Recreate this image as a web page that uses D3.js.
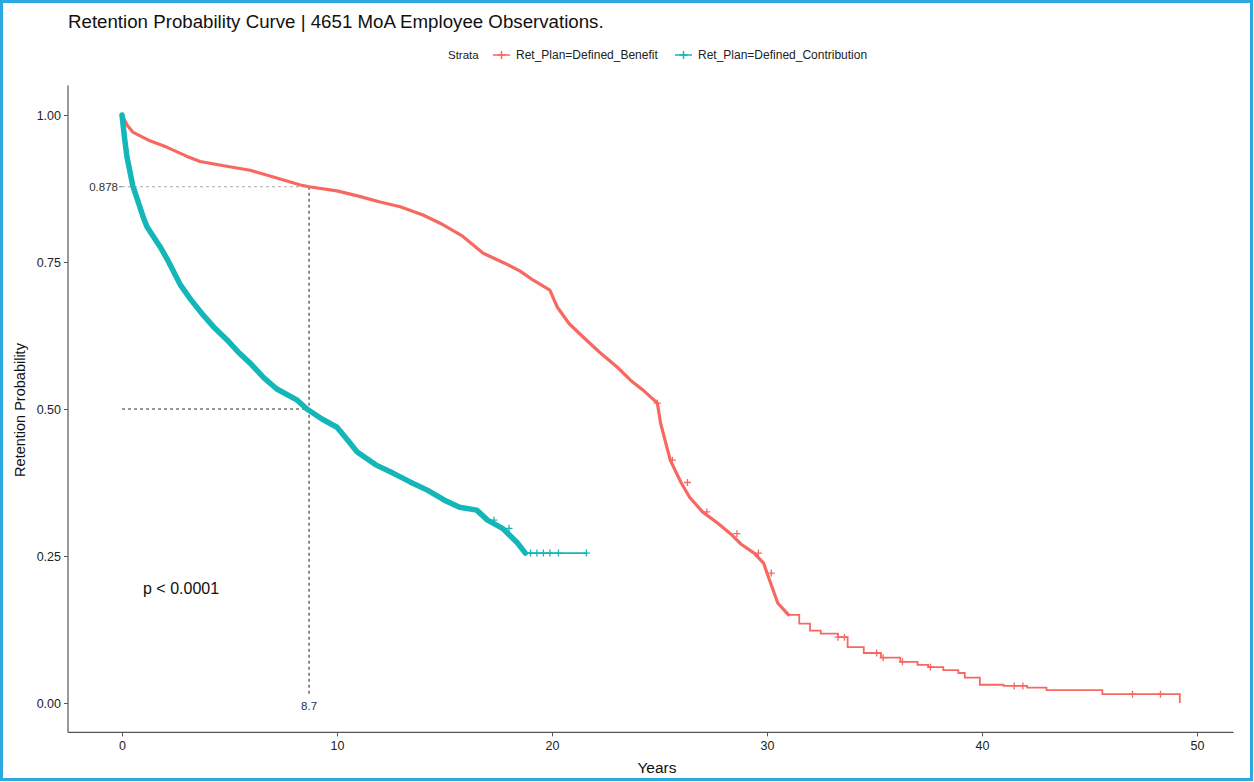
<!DOCTYPE html>
<html>
<head>
<meta charset="utf-8">
<script src="https://cdn.jsdelivr.net/npm/d3@7"></script>
<style>
  body { margin: 0; background: #fff; }
  svg { font-family: "Liberation Sans", Arial, sans-serif; }
</style>
</head>
<body>
<svg id="km" width="1254" height="782"></svg>
<script>
// survival estimates (years, probability)
var dbTimes = [0, 0.25, 0.5, 1.3, 2.1, 3.0, 3.63, 5.0, 5.96, 7.0, 8.3, 8.7, 10.0, 11.0, 12.0, 12.94, 14.0, 14.8,
  15.8, 16.8, 17.8, 18.5, 19.13, 19.9, 20.25, 20.8, 21.46, 22.2, 23.04, 23.65, 24.3, 24.9, 25.05, 25.5,
  26.0, 26.4, 27.0, 27.7, 28.3, 28.8, 29.4, 29.84, 30.0, 30.5, 31.0, 31.5, 32.0, 32.5, 33.3, 33.75,
  34.5, 35.3, 36.2, 37.0, 37.5, 38.2, 38.9, 39.2, 39.9, 41.0, 42.1, 43.0, 45.6, 49.2];
var dbSurv = [1.00, 0.982, 0.971, 0.956, 0.945, 0.930, 0.921, 0.912, 0.906, 0.895, 0.881, 0.878, 0.871, 0.862, 0.852, 0.844, 0.830, 0.816,
  0.795, 0.765, 0.748, 0.735, 0.719, 0.702, 0.673, 0.645, 0.622, 0.597, 0.571, 0.549, 0.530, 0.510, 0.476, 0.413,
  0.375, 0.350, 0.325, 0.306, 0.288, 0.270, 0.255, 0.238, 0.221, 0.170, 0.150, 0.135, 0.123, 0.118, 0.112, 0.095,
  0.085, 0.077, 0.070, 0.065, 0.061, 0.056, 0.051, 0.043, 0.031, 0.029, 0.026, 0.022, 0.015, 0.0];

var dcTimes = [0, 0.12, 0.23, 0.5, 0.98, 1.16, 1.77, 2.1, 2.7, 3.2, 3.77, 4.3, 4.9, 5.4, 5.96, 6.6, 7.2,
  8.15, 8.6, 9.3, 10.0, 10.5, 10.94, 11.8, 12.6, 13.4, 14.2, 15.0, 15.7, 16.5, 17.0, 17.7, 18.4, 18.76, 21.6];
var dcSurv = [1.00, 0.96, 0.929, 0.880, 0.827, 0.810, 0.776, 0.755, 0.712, 0.686, 0.660, 0.638, 0.617, 0.597, 0.578, 0.553, 0.534,
  0.515, 0.500, 0.483, 0.469, 0.447, 0.427, 0.405, 0.391, 0.376, 0.362, 0.345, 0.333, 0.328, 0.311, 0.297, 0.272, 0.255, 0.255];

// censored observations that stand out as single "+" marks
var dbCensor = [24.9, 25.6, 26.3, 27.2, 28.6, 29.6, 30.2, 33.3, 33.6, 35.1, 35.4, 36.3, 37.6, 41.5, 41.9, 47.0, 48.3];
var dcCensor = [17.3, 18.0, 19.0, 19.3, 19.6, 19.9, 20.3, 21.6];

var strata = ["Ret_Plan=Defined_Benefit", "Ret_Plan=Defined_Contribution"];
var colors = ["#f76860", "#14b6b8"];
var xTicks = [0, 10, 20, 30, 40, 50];
var yTicks = [0, 0.25, 0.5, 0.75, 1];
var medianTime = 8.7;
var dbAtMedian = 0.878;

(function () {
  var svg = d3.select('#km');

  var x = d3.scaleLinear().domain([0, 50]).range([122, 1197]);
  var y = d3.scaleLinear().domain([0, 1]).range([703, 115]);

  // outer frame
  svg.append('rect')
    .attr('x', 1.5).attr('y', 1.5).attr('width', 1250).attr('height', 778)
    .attr('fill', 'none').attr('stroke', '#2aa8e2').attr('stroke-width', 3);

  svg.append('text')
    .attr('x', 68).attr('y', 28)
    .style('font-size', '18.7px').style('fill', '#111')
    .text('Retention Probability Curve | 4651 MoA Employee Observations.');

  // legend
  var lg = svg.append('g').attr('transform', 'translate(0,55)');
  lg.append('text').attr('x', 448).attr('y', 4).style('font-size', '11.5px').style('fill', '#222').text('Strata');
  var keyX = [493, 675];
  strata.forEach(function (s, i) {
    var g = lg.append('g').attr('transform', 'translate(' + keyX[i] + ',0)');
    g.append('line').attr('x1', 0).attr('x2', 17).attr('y1', 0).attr('y2', 0)
      .attr('stroke', colors[i]).attr('stroke-width', 1.5);
    g.append('path').attr('d', 'M4.5,0H12.5M8.5,-4V4').attr('stroke', colors[i]).attr('stroke-width', 1.5);
    g.append('text').attr('x', 23).attr('y', 4).style('font-size', '12px').style('fill', '#222').text(s);
  });

  // axes
  var axisCol = '#555';
  svg.append('line').attr('x1', 68).attr('x2', x(51.7)).attr('y1', y(-0.05)).attr('y2', y(-0.05))
    .attr('stroke', axisCol).attr('stroke-width', 1.2);
  svg.append('line').attr('x1', 68).attr('x2', 68).attr('y1', y(-0.05)).attr('y2', y(1.05))
    .attr('stroke', axisCol).attr('stroke-width', 1.2);

  var xa = svg.append('g').attr('transform', 'translate(0,' + y(-0.05) + ')')
    .call(d3.axisBottom(x).tickValues(xTicks).tickSize(4).tickPadding(5));
  var ya = svg.append('g').attr('transform', 'translate(68,0)')
    .call(d3.axisLeft(y).tickValues(yTicks).tickSize(4).tickPadding(3).tickFormat(d3.format('.2f')));
  [xa, ya].forEach(function (a) {
    a.select('.domain').remove();
    a.selectAll('.tick line').attr('stroke', axisCol);
    a.selectAll('.tick text').style('font-size', '12.5px').style('fill', '#222')
      .style('font-family', '"Liberation Sans", Arial, sans-serif');
  });

  svg.append('text').attr('x', 657).attr('y', 773).attr('text-anchor', 'middle')
    .style('font-size', '15.5px').style('fill', '#111').text('Years');
  svg.append('text').attr('transform', 'translate(25,410) rotate(-90)').attr('text-anchor', 'middle')
    .style('font-size', '14.5px').style('fill', '#111').text('Retention Probability');

  // median / reference lines
  svg.append('line').attr('x1', x(0)).attr('x2', x(medianTime)).attr('y1', y(dbAtMedian)).attr('y2', y(dbAtMedian))
    .attr('stroke', '#aaa').attr('stroke-width', 1.2).attr('stroke-dasharray', '3,3');
  svg.append('line').attr('x1', x(0)).attr('x2', x(medianTime)).attr('y1', y(0.5)).attr('y2', y(0.5))
    .attr('stroke', '#333').attr('stroke-width', 1.1).attr('stroke-dasharray', '3,3');
  svg.append('line').attr('x1', x(medianTime)).attr('x2', x(medianTime)).attr('y1', y(dbAtMedian)).attr('y2', y(0) - 8)
    .attr('stroke', '#333').attr('stroke-width', 1.1).attr('stroke-dasharray', '3,3');
  svg.append('text').attr('x', x(0) - 4).attr('y', y(dbAtMedian) + 4).attr('text-anchor', 'end')
    .style('font-size', '11.5px').style('fill', '#333').text(d3.format('.3f')(dbAtMedian));
  svg.append('line').attr('x1', x(0) - 3).attr('x2', x(0)).attr('y1', y(dbAtMedian)).attr('y2', y(dbAtMedian))
    .attr('stroke', '#777');
  svg.append('text').attr('x', x(medianTime)).attr('y', y(0) + 7).attr('text-anchor', 'middle')
    .style('font-size', '11.5px').style('fill', '#333').text(medianTime);

  svg.append('text').attr('x', 143).attr('y', 594)
    .style('font-size', '16px').style('fill', '#111').text('p < 0.0001');

  // curves
  function pts(ts, ss) { return ts.map(function (t, i) { return [t, ss[i]]; }); }
  var smooth = d3.line().x(function (d) { return x(d[0]); }).y(function (d) { return y(d[1]); });
  var steps = d3.line().x(function (d) { return x(d[0]); }).y(function (d) { return y(d[1]); })
    .curve(d3.curveStepAfter);
  // thousands of tiny KM steps read as a smooth thick band where censoring is heavy
  var series = [
    { data: pts(dbTimes, dbSurv), censor: dbCensor, denseTo: 31.0, denseW: 3.2 },
    { data: pts(dcTimes, dcSurv), censor: dcCensor, denseTo: 18.76, denseW: 5.5 }
  ];

  function survAt(data, t) {
    var v = data[0][1];
    data.forEach(function (d) { if (d[0] <= t) v = d[1]; });
    return v;
  }

  series.forEach(function (s, i) {
    var dense = s.data.filter(function (d) { return d[0] <= s.denseTo; });
    var sparse = s.data.filter(function (d) { return d[0] >= s.denseTo; });
    svg.append('path').datum(dense).attr('d', smooth)
      .attr('fill', 'none').attr('stroke', colors[i]).attr('stroke-width', s.denseW)
      .attr('stroke-linejoin', 'round').attr('stroke-linecap', 'round');
    svg.append('path').datum(sparse).attr('d', steps)
      .attr('fill', 'none').attr('stroke', colors[i]).attr('stroke-width', 1.8);
    svg.append('g').selectAll('path').data(s.censor).enter().append('path')
      .attr('d', function (t) {
        var px = x(t), py = y(survAt(s.data, t));
        return 'M' + (px - 3.5) + ',' + py + 'H' + (px + 3.5) + 'M' + px + ',' + (py - 3.5) + 'V' + (py + 3.5);
      })
      .attr('stroke', colors[i]).attr('stroke-width', 1.3);
  });
})();
</script>
</body>
</html>
